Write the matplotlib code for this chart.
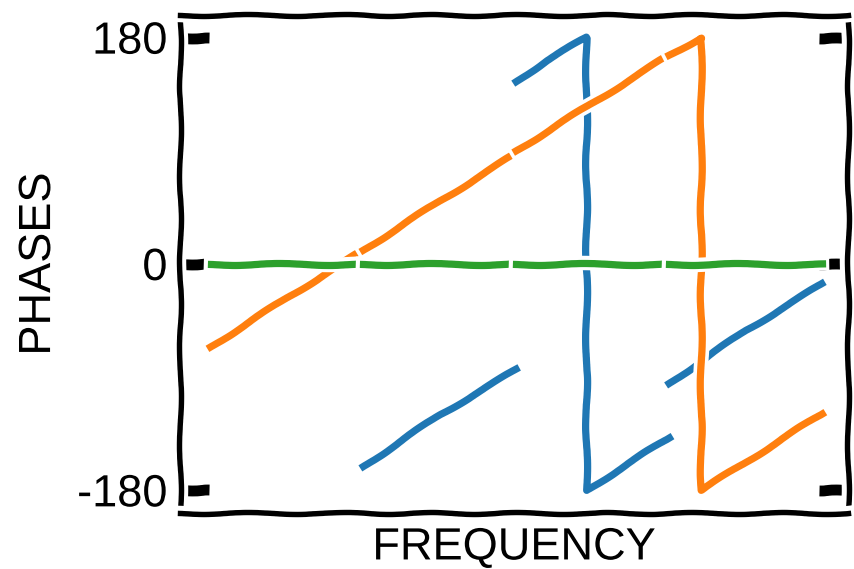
import matplotlib
matplotlib.use('Agg')
import matplotlib.pyplot as plt
from matplotlib.ticker import MultipleLocator

# phase readings (degrees), one list per plotted piece of the frequency axis
blue_x = [[1.0, 1.5, 2.0],
          [2.0, 2.2, 2.46, 2.46, 3.0],
          [3.0, 3.5, 4.0]]
blue_y = [[-161, -120, -84],
          [145, 162, 180, -180, -138],
          [-95, -53, -16]]

orange_x = [[0.0, 0.5, 1.0],
            [1.0, 1.5, 2.0],
            [2.0, 2.5, 3.0],
            [3.0, 3.21, 3.21, 3.6, 4.0]]
orange_y = [[-66, -27, 11],
            [11, 50, 88],
            [90, 128, 166],
            [166, 180, -180, -150, -119]]

green_x = [[0.0, 0.5, 1.0],
           [1.0, 1.5, 2.0],
           [2.0, 2.5, 3.0],
           [3.0, 3.5, 4.0]]
green_y = [[0, 0, 0],
           [0, 0, 0],
           [0, 0, 0],
           [0, 0, 0]]

yticks = [-180, 0, 180]

plt.xkcd()
plt.rcParams['font.family'] = ['Liberation Sans', 'DejaVu Sans']
plt.rcParams['font.size'] = 12.5

fig = plt.figure(figsize=(854 / 260, 569 / 260), dpi=260)
ax = fig.add_axes([180 / 854, 1 - 513 / 569, 668 / 854, 498 / 569])

for xs, ys in zip(blue_x, blue_y):
    ax.plot(xs, ys, color='C0')
for xs, ys in zip(orange_x, orange_y):
    ax.plot(xs, ys, color='C1')
for xs, ys in zip(green_x, green_y):
    ax.plot(xs, ys, color='C2')

ax.set_xlim(-0.2, 4.17)
ax.set_xticks([])
ax.set_yticks(yticks)
ax.yaxis.set_minor_locator(MultipleLocator(45))
ax.tick_params(axis='y', which='both', direction='in', left=True, right=True)
ax.tick_params(axis='y', which='minor', length=1, width=0.6)
ax.set_xlabel('FREQUENCY', labelpad=4)
ax.set_ylabel('PHASES', labelpad=5)

fig.savefig('out.png', dpi=260)
